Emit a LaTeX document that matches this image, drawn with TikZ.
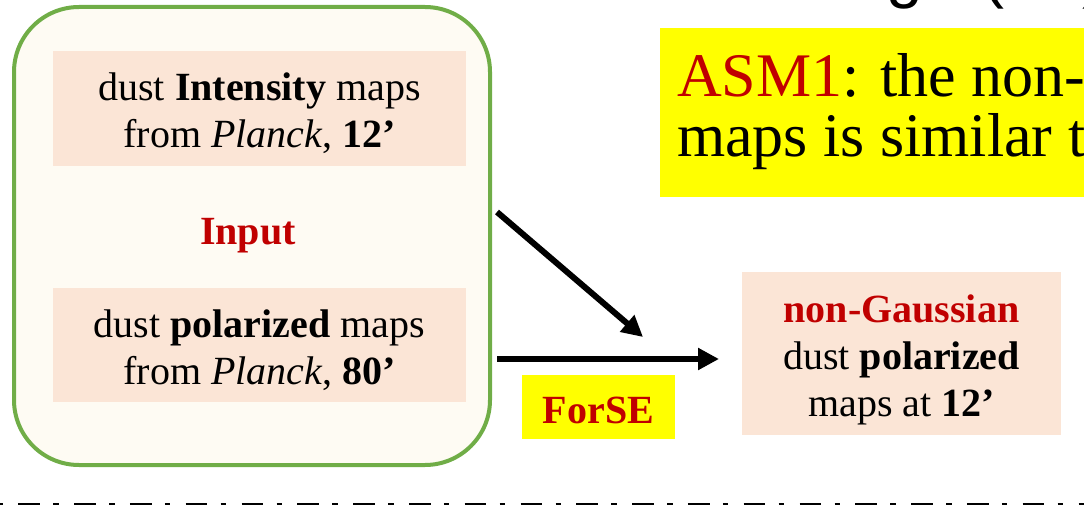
\documentclass[tikz,border=0pt]{standalone}
\usepackage{fontspec}
\setmainfont{Liberation Serif}
\newfontfamily\headfont{Liberation Sans}
\usetikzlibrary{arrows.meta}
\definecolor{frame}{HTML}{70AD47}
\definecolor{cream}{HTML}{FEFBF3}
\definecolor{peach}{HTML}{FBE5D6}
\definecolor{hilite}{HTML}{FFFF00}
\definecolor{darkred}{HTML}{C00000}
\tikzset{
  body/.style={font=\fontsize{40}{47}\selectfont, align=center, inner sep=0pt},
  mapbox/.style={fill=peach, inner sep=0pt},
  groupbox/.style={draw=frame, fill=cream, line width=4pt, rounded corners=65pt, inner sep=0pt},
  label/.style={font=\fontsize{40}{47}\selectfont\bfseries, text=darkred},
  flow/.style={line width=6pt, -{Triangle[length=21pt,width=21pt]}},
}
\begin{document}
\begin{tikzpicture}[x=1pt, y=-1pt]
\useasboundingbox (0,0) rectangle (1084,505);

% heading line running above the top edge
\node[anchor=base west, inner sep=0pt, font=\headfont\fontsize{66}{66}\selectfont] (head) at (886,-4)
  {g\hspace{60pt}(\hspace{78pt})};

% input group
\node[groupbox, minimum width=476pt, minimum height=458pt] (group) at (252,236) {};
\node[mapbox, minimum width=413pt, minimum height=115pt] (inten) at (259.5,108.5) {};
\node[body] (intentext) at ([yshift=-5pt]inten.center)
  {dust \textbf{Intensity} maps\\ from \emph{Planck}, \textbf{12’}};
\node[label] (input) at (248,236) {Input};
\node[mapbox, minimum width=413pt, minimum height=114pt] (polin) at (259.5,345) {};
\node[body] (polintext) at ([yshift=-5pt]polin.center)
  {dust \textbf{polarized} maps\\ from \emph{Planck}, \textbf{80’}};

% assumption banner
\node[fill=hilite, anchor=north west, minimum width=440pt, minimum height=169pt, inner sep=0pt] (asm) at (660,28) {};
\node[anchor=base west, inner sep=0pt, align=left, font=\fontsize{62}{60}\selectfont] (asmtext) at (677,157)
  {\textcolor{darkred}{ASM1}: the non-\\ maps is similar t};

% method and output
\node[fill=hilite, minimum width=153pt, minimum height=64pt, inner sep=0pt] (forse) at (598.5,407) {};
\node[label, inner sep=0pt] (forsetext) at ([yshift=-3pt]forse.center) {ForSE};
\node[mapbox, minimum width=319pt, minimum height=163pt] (out) at (901.5,353.5) {};
\node[body] (outtext) at ([yshift=-6pt]out.center)
  {\textcolor{darkred}{\textbf{non-Gaussian}}\\ dust \textbf{polarized}\\ maps at \textbf{12’}};

% connectors
\coordinate (a1) at (497,212);
\coordinate (a2) at (643,337);
\coordinate (b1) at (497,359);
\coordinate (b2) at (719,359);
\draw[flow] (a1) -- (a2);
\draw[flow] (b1) -- (b2);

% separator
\coordinate (s1) at (0,504.5);
\coordinate (s2) at (1084,504.5);
\draw[line width=3.5pt, black, dash pattern=on 21.7pt off 13.3pt on 5.5pt off 15.3pt, dash phase=37.5pt] (s1) -- (s2);
\end{tikzpicture}
\end{document}
